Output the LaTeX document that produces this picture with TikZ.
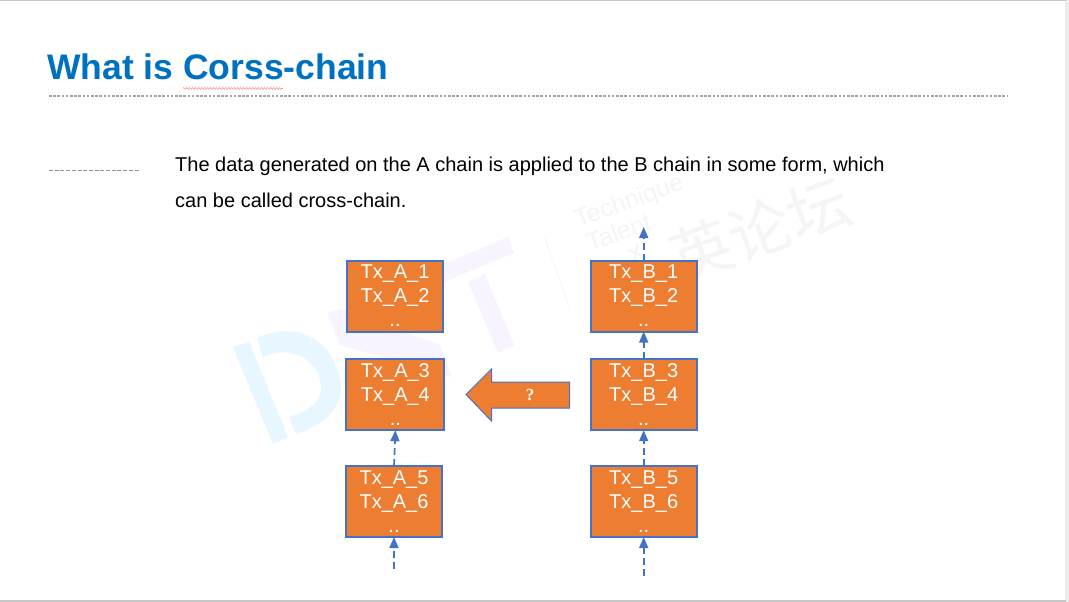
\documentclass[tikz,border=0pt]{standalone}
\usepackage{fontspec}
\setmainfont{Liberation Sans}
\newfontfamily\cjk{Noto Sans CJK SC}
\newfontfamily\qserif{Liberation Serif}
\usetikzlibrary{arrows.meta,decorations.pathmorphing}
\definecolor{boxfill}{HTML}{ED7D31}
\definecolor{boxline}{HTML}{4472C4}
\definecolor{titleblue}{HTML}{0070C0}
\definecolor{wmblue}{HTML}{E8F6FF}
\definecolor{wmviolet}{HTML}{F7F4FF}
\definecolor{wmgray}{HTML}{F5F5F5}
\tikzset{
  txbox/.style={draw=boxline,line width=2pt,fill=boxfill,inner sep=0pt,outer sep=0pt,text=white,font=\fontsize{20}{24}\selectfont,align=center,anchor=north west,minimum height=71pt},
  narrowA/.style={txbox,minimum width=96pt},
  wideB/.style={txbox,minimum width=106pt},
  chainarrow/.style={draw=boxline,line width=1.7pt,dash pattern=on 7pt off 4pt,-{Triangle[length=11pt,width=9pt]}},
  chainarrowB/.style={chainarrow,line width=1.6pt},
  rulegray/.style={draw=gray!70,line width=1.2pt,dash pattern=on 2.6pt off 1.6pt},
  bodytext/.style={anchor=base west,inner sep=0pt,font=\fontsize{20}{24}\selectfont},
  wmtext/.style={text=wmgray,rotate=20,anchor=base west,inner sep=0pt}
}
\begin{document}
\begin{tikzpicture}[x=1pt,y=-1pt]
\useasboundingbox (0,0) rectangle (1069,602);
\fill[white] (0,0) rectangle (1069,602);
% window edges
\fill[black!8] (1065,0) rectangle (1069,602);
\fill[black!22] (0,0) rectangle (1066,1.2);
\fill[black!22] (0,600.4) rectangle (1066,602);
% watermark
\fill[wmblue] (233,347) -- (249,342) -- (288,437) -- (273,444) -- cycle;
\fill[wmblue] (257,338) .. controls (300,318) and (335,345) .. (340,380)
  .. controls (345,405) and (325,425) .. (296,434) -- (289,417)
  .. controls (312,410) and (325,400) .. (320,380)
  .. controls (315,358) and (290,345) .. (263,357) -- cycle;
\fill[wmviolet] (327,313) -- (340,309) -- (440,345) -- (452,377) -- (340,345) -- cycle;
\fill[wmviolet] (430,270) -- (508,237) -- (514,253) -- (436,285) -- cycle;
\fill[wmviolet] (468,282) -- (485,274) -- (514,345) -- (498,353) -- cycle;
\draw[wmgray,line width=.8pt] (545,238) -- (570,310);
\node[wmtext,font=\fontsize{25}{27}\selectfont] (wmen1) at (578,228) {Technique};
\node[wmtext,font=\fontsize{25}{27}\selectfont] (wmen2) at (590,252) {Talent};
\node[text=wmgray,rotate=20,font=\cjk\fontsize{62}{66}\selectfont] (wmzh) at (760,230) {英论坛};
\draw[wmgray,line width=2.5pt] (628,250) -- (646,257) (637,244) -- (635,262);
% heading
\node[anchor=base west,inner sep=0pt,text=titleblue,font=\bfseries\fontsize{35.5}{40}\selectfont] (title) at (47,80) {What is Corss-chain};
\coordinate (ruleL) at (49,96); \coordinate (ruleR) at (1007,96);
\draw[rulegray] (ruleL) -- (ruleR);
\coordinate (waveL) at (183,88.5); \coordinate (waveR) at (283,88.5);
\draw[red!40,line width=.7pt,decorate,decoration={zigzag,amplitude=.8pt,segment length=3pt}] (waveL) -- (waveR);
\coordinate (shortL) at (49,170.5); \coordinate (shortR) at (140,170.5);
\draw[draw=gray!85,line width=1pt,dash pattern=on 4pt off 1.7pt] (shortL) -- (shortR);
\node[bodytext] (l1) at (175,171) {The data generated on the A chain is applied to the B chain in some form, which};
\node[bodytext] (l2) at (175,207) {can be called cross-chain.};
% boxes
\node[narrowA] (a1) at (347,260.5) {Tx\_A\_1\\Tx\_A\_2\\..};
\node[txbox,minimum width=98pt] (a3) at (346.4,359.2) {Tx\_A\_3\\Tx\_A\_4\\..};
\node[narrowA] (a5) at (346,466) {Tx\_A\_5\\Tx\_A\_6\\..};
\node[wideB] (b1) at (590.7,260.5) {Tx\_B\_1\\Tx\_B\_2\\..};
\node[wideB] (b3) at (590.7,359.2) {Tx\_B\_3\\Tx\_B\_4\\..};
\node[wideB] (b5) at (590.7,466) {Tx\_B\_5\\Tx\_B\_6\\..};
% connectors
\coordinate (a0) at (394,569);
\coordinate (b0) at (643.7,576);
\coordinate (btop) at (643.7,227);
\draw[chainarrow] (a0) -- (a5.south);
\draw[chainarrow] (a5.north) -- (a3.south);
\draw[chainarrowB] (b0) -- (b5.south);
\draw[chainarrowB] (b5.north) -- (b3.south);
\draw[chainarrowB] (b3.north) -- (b1.south);
\draw[chainarrowB] (b1.north) -- (btop);
% big arrow
\path[draw=boxline,line width=1pt,fill=boxfill] (569.5,382) -- (491.5,382) -- (491.5,369) -- (466,394.5) -- (491.5,421) -- (491.5,408) -- (569.5,408) -- cycle;
\node[text=white,font=\qserif\bfseries\fontsize{17}{18}\selectfont] (q) at (530,395) {?};
\end{tikzpicture}
\end{document}
